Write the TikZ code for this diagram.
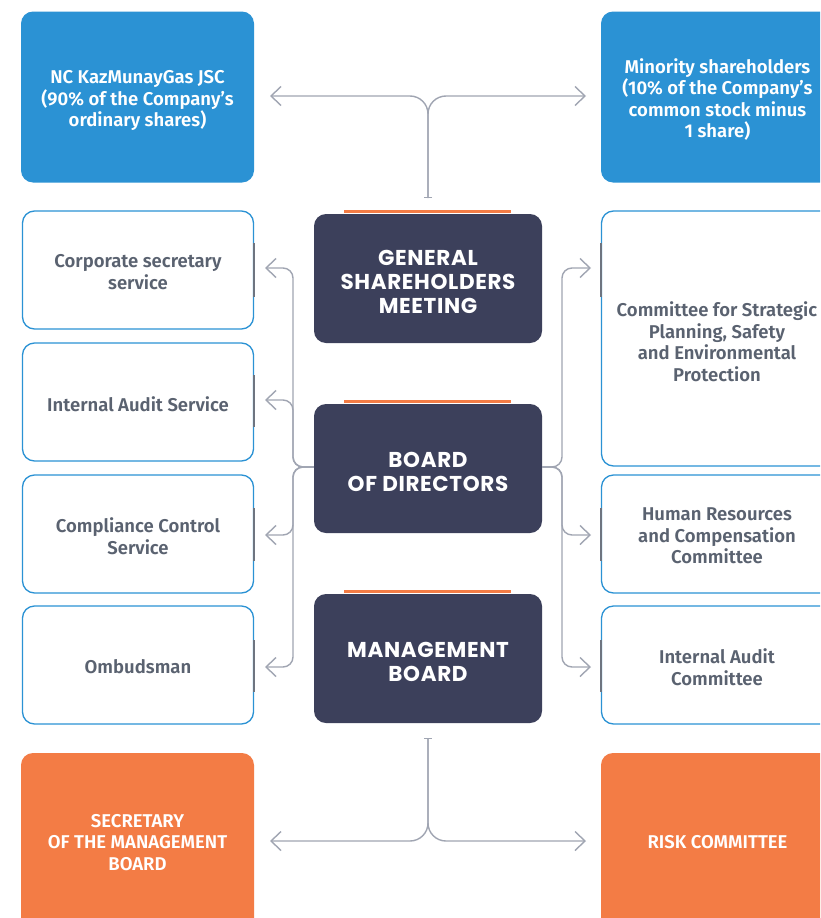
\documentclass[tikz,border=0pt]{standalone}
\usepackage{fontspec}
\setmainfont{Fira Sans}[UprightFont=* SemiBold, BoldFont=* Bold]
\newfontfamily\popp{Poppins}[UprightFont=* Bold, LetterSpace=3]
\usetikzlibrary{arrows.meta,calc}
\definecolor{bluec}{RGB}{43,146,212}
\definecolor{darkc}{RGB}{60,64,91}
\definecolor{orangec}{RGB}{243,124,69}
\definecolor{linec}{RGB}{160,165,178}
\definecolor{tickc}{RGB}{110,116,128}
\definecolor{textc}{RGB}{90,98,112}
\tikzset{
  boxbase/.style={rounded corners=12pt, inner sep=0pt},
  wtext/.style={align=center, text=white, font=\fontsize{18.5}{21.2}\selectfont, yshift=-2.5pt, inner sep=0pt},
  gtext/.style={align=center, text=textc, font=\fontsize{18.5}{21.5}\selectfont, yshift=-2pt, inner sep=0pt},
  dtext/.style={align=center, text=white, font=\popp\fontsize{21.5}{24}\selectfont, yshift=-3pt, inner sep=0pt},
  bluebox/.style={boxbase, fill=bluec, minimum width=233pt, minimum height=171pt},
  orangebox/.style={boxbase, fill=orangec, minimum width=233pt, minimum height=180pt},
  whitebox/.style={boxbase, draw=bluec, line width=1.3pt, fill=white, minimum width=231pt},
  darkbox/.style={boxbase, fill=darkc, minimum width=228pt, minimum height=129pt},
  conn/.style={draw=linec, line width=1.4pt, rounded corners=10pt},
  tip/.style={-{Straight Barb[length=10pt,width=19pt,line width=1.4pt]}},
  teetip/.style={{Bar[width=8pt,line width=1.4pt]}-{Straight Barb[length=10pt,width=19pt,line width=1.4pt]}},
  tick/.style={draw=tickc, line width=2pt},
  obar/.style={fill=orangec}
}
\begin{document}
\begin{tikzpicture}[x=1pt,y=-1pt]
\useasboundingbox (0,0) rectangle (820,918);
\clip (0,0) rectangle (820,918);
\fill[white] (0,0) rectangle (820,918);

% top blue boxes
\node[bluebox, label={[wtext, yshift=-1pt]center:{NC KazMunayGas JSC\\(90\% of the Company’s\\ordinary shares)}}] (kmg) at (137.5,97) {};
\node[bluebox, label={[wtext]center:{Minority shareholders\\(10\% of the Company’s\\common stock minus\\1 share)}}] (minor) at (717.5,97) {};

% dark boxes
\fill[obar] (344,210) rectangle (511,213);
\fill[obar] (344,400) rectangle (511,403);
\fill[obar] (344,590) rectangle (511,593);
\node[darkbox, label={[dtext]center:{GENERAL\\SHAREHOLDERS\\MEETING}}] (gsm) at (428,278.5) {};
\node[darkbox, label={[dtext]center:{BOARD\\OF DIRECTORS}}] (bod) at (428,468.5) {};
\node[darkbox, label={[dtext]center:{MANAGEMENT\\BOARD}}] (mb) at (428,658.5) {};

% left white boxes
\node[whitebox, minimum height=118pt, label={[gtext]center:{Corporate secretary\\service}}] (cs) at (138,270) {};
\node[whitebox, minimum height=118pt, label={[gtext]center:{Internal Audit Service}}] (ias) at (138,402) {};
\node[whitebox, minimum height=118pt, label={[gtext]center:{Compliance Control\\Service}}] (ccs) at (138,534) {};
\node[whitebox, minimum height=118pt, label={[gtext]center:{Ombudsman}}] (omb) at (138,665) {};

% right white boxes
\node[whitebox, minimum height=255pt, label={[gtext, yshift=-1pt]center:{Committee for Strategic\\Planning, Safety\\and Environmental\\Protection}}] (csp) at (717,338.5) {};
\node[whitebox, minimum height=118pt, label={[gtext]center:{Human Resources\\and Compensation\\Committee}}] (hrc) at (717,534) {};
\node[whitebox, minimum height=118pt, label={[gtext]center:{Internal Audit\\Committee}}] (iac) at (717,665) {};

% bottom orange boxes
\node[orangebox, label={[wtext, yshift=3pt]center:{SECRETARY\\OF THE MANAGEMENT\\BOARD}}] (sec) at (137.5,843) {};
\node[orangebox, label={[wtext, yshift=3pt]center:{RISK COMMITTEE}}] (risk) at (717.5,843) {};

% ticks on box sides
\draw[tick] (cs.east |- 0,243) -- (cs.east |- 0,297);
\draw[tick] (ias.east |- 0,375) -- (ias.east |- 0,427);
\draw[tick] (ccs.east |- 0,508) -- (ccs.east |- 0,561);
\draw[tick] (omb.east |- 0,640) -- (omb.east |- 0,692);
\draw[tick] (csp.west |- 0,243) -- (csp.west |- 0,297);
\draw[tick] (hrc.west |- 0,508) -- (hrc.west |- 0,561);
\draw[tick] (iac.west |- 0,640) -- (iac.west |- 0,692);

% top connector
\coordinate (tt) at (428,198);
\coordinate (tl) at (270,96);
\coordinate (tr) at (586,96);
\draw[conn, rounded corners=18pt, teetip] (tt) |- (tl);
\draw[conn, rounded corners=18pt, tip] (tt) |- (tr);

% bottom connector
\coordinate (bt) at (428,738);
\coordinate (bl) at (270,841);
\coordinate (br) at (586,841);
\draw[conn, rounded corners=18pt, teetip] (bt) |- (bl);
\draw[conn, rounded corners=18pt, tip] (bt) |- (br);

% left side connectors
\coordinate (lj) at (293,467);
\coordinate (l1) at (265,268);
\coordinate (l2) at (265,400);
\coordinate (l3) at (265,535);
\coordinate (l4) at (265,667);
\foreach \t in {l1,l2,l3,l4}
  \draw[conn, tip] (bod.west |- lj) -- (lj) |- (\t);

% right side connectors
\coordinate (rj) at (562,467);
\coordinate (r1) at (591,268);
\coordinate (r3) at (591,535);
\coordinate (r4) at (591,667);
\foreach \t in {r1,r3,r4}
  \draw[conn, tip] (bod.east |- rj) -- (rj) |- (\t);
\end{tikzpicture}
\end{document}
